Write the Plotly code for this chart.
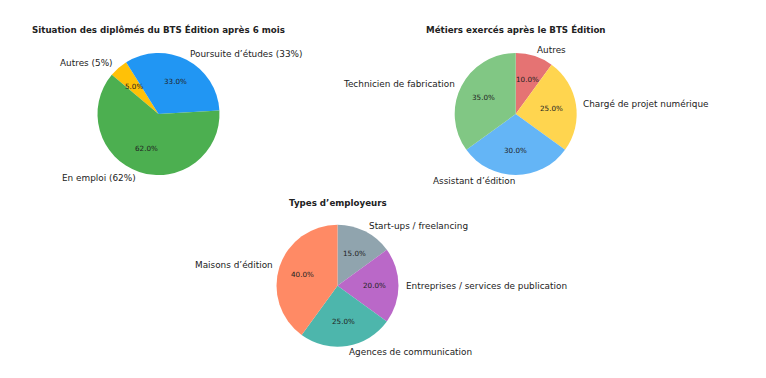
import math
import plotly.graph_objects as go

# ---- Data ----
title1 = "Situation des diplômés du BTS Édition après 6 mois"
labels1 = ["En emploi (62%)", "Poursuite d’études (33%)", "Autres (5%)"]
values1 = [62, 33, 5]

title2 = "Métiers exercés après le BTS Édition"
labels2 = ["Technicien de fabrication", "Assistant d’édition", "Chargé de projet numérique", "Autres"]
values2 = [35, 30, 25, 10]

title3 = "Types d’employeurs"
labels3 = ["Maisons d’édition", "Agences de communication", "Entreprises / services de publication", "Start-ups / freelancing"]
values3 = [40, 25, 20, 15]

# ---- Styles ----
colors1 = ["#4CAF50", "#2196F3", "#FFC107"]
colors2 = ["#81C784", "#64B5F6", "#FFD54F", "#E57373"]
colors3 = ["#FF8A65", "#4DB6AC", "#BA68C8", "#90A4AE"]

W, H = 766, 378
R = 61
FONT = "DejaVu Sans"
TXT = "#222222"

pies = [
    dict(title=title1, labels=labels1, values=values1, colors=colors1, start=140, cx=158.5, cy=114, ty=30),
    dict(title=title2, labels=labels2, values=values2, colors=colors2, start=90, cx=515.7, cy=114, ty=30),
    dict(title=title3, labels=labels3, values=values3, colors=colors3, start=90, cx=337.5, cy=285.7, ty=202.5),
]

fig = go.Figure()
annotations = []

def px(x, y):
    return x / W, 1 - y / H

for p in pies:
    cx, cy = p["cx"], p["cy"]
    # slices laid out counterclockwise from the start angle (matplotlib style):
    # equivalent to reversed order drawn clockwise from the same edge
    fig.add_trace(go.Pie(
        labels=p["labels"][::-1], values=p["values"][::-1], sort=False,
        direction="clockwise", rotation=90 - p["start"],
        marker=dict(colors=p["colors"][::-1], line=dict(width=0)),
        textinfo="none", hoverinfo="label+percent", showlegend=False,
        domain=dict(x=[(cx - R) / W, (cx + R) / W], y=[1 - (cy + R) / H, 1 - (cy - R) / H]),
    ))
    total = sum(p["values"])
    ang = p["start"]
    for lab, v in zip(p["labels"], p["values"]):
        span = 360 * v / total
        mid = math.radians(ang + span / 2)
        ang += span
        c, s = math.cos(mid), math.sin(mid)
        lx, ly = px(cx + 1.1 * R * c, cy - 1.1 * R * s)
        annotations.append(dict(
            x=lx, y=ly, xref="paper", yref="paper", text=lab, showarrow=False,
            xanchor="left" if c >= 0 else "right", yanchor="middle", borderpad=0,
            font=dict(family=FONT, size=8.9, color=TXT),
        ))
        tx, ty = px(cx + 0.6 * R * c, cy - 0.6 * R * s)
        annotations.append(dict(
            x=tx, y=ty, xref="paper", yref="paper", text=f"{100 * v / total:.1f}%",
            showarrow=False, xanchor="center", yanchor="middle", borderpad=0,
            font=dict(family=FONT, size=7.2, color=TXT),
        ))
    tx, ty = px(cx, p["ty"])
    annotations.append(dict(
        x=tx, y=ty, xref="paper", yref="paper", text=f"<b>{p['title']}</b>",
        showarrow=False, xanchor="center", yanchor="middle", borderpad=0,
        font=dict(family=FONT, size=8.7, color=TXT),
    ))

fig.update_layout(
    width=W, height=H, margin=dict(l=0, r=0, t=0, b=0),
    paper_bgcolor="white", plot_bgcolor="white",
    annotations=annotations,
)

fig.write_html("out.html", config={"displayModeBar": False},
               post_script="document.body.style.margin='0';")
